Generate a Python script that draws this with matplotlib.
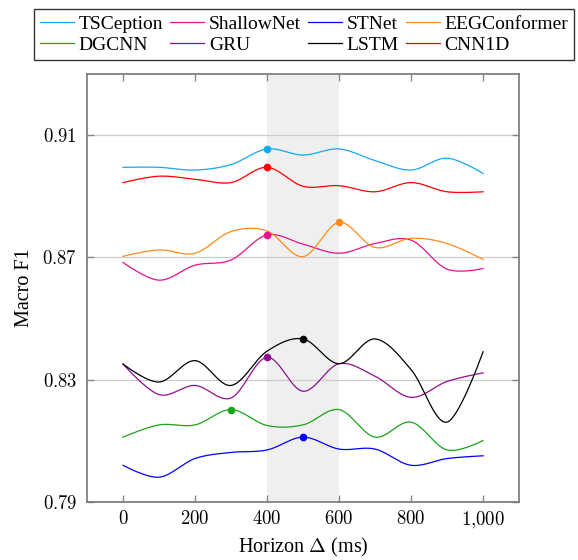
import numpy as np
import matplotlib
matplotlib.use("Agg")
import matplotlib.pyplot as plt
from matplotlib.ticker import FuncFormatter

plt.rcParams['font.family'] = ['Liberation Serif', 'DejaVu Serif']
plt.rcParams['mathtext.fontset'] = 'cm'

horizons = [0, 100, 200, 300, 400, 500, 600, 700, 800, 900, 1000]

tsception = [0.8994, 0.8994, 0.8985, 0.9003, 0.9054, 0.9034, 0.9054, 0.9016, 0.8985, 0.9024, 0.8974]
shallownet = [0.8683, 0.8625, 0.8674, 0.8691, 0.8773, 0.8743, 0.8713, 0.8745, 0.8756, 0.8661, 0.8663]
stnet = [0.8020, 0.7981, 0.8042, 0.8062, 0.8070, 0.8112, 0.8073, 0.8073, 0.8020, 0.8042, 0.8051]
eegconformer = [0.8703, 0.8724, 0.8713, 0.8784, 0.8786, 0.8702, 0.8814, 0.8732, 0.8762, 0.8745, 0.8693]
dgcnn = [0.8112, 0.8152, 0.8152, 0.8202, 0.8150, 0.8152, 0.8202, 0.8112, 0.8161, 0.8070, 0.8101]
gru = [0.8351, 0.8251, 0.8281, 0.8240, 0.8373, 0.8262, 0.8352, 0.8311, 0.8242, 0.8294, 0.8322]
lstm = [0.8351, 0.8292, 0.8362, 0.8281, 0.8393, 0.8433, 0.8352, 0.8433, 0.8333, 0.8161, 0.8391]
cnn1d = [0.8944, 0.8965, 0.8955, 0.8944, 0.8994, 0.8932, 0.8934, 0.8914, 0.8944, 0.8914, 0.8914]

series_names = ['TSCeption', 'ShallowNet', 'STNet', 'EEGConformer', 'DGCNN', 'GRU', 'LSTM', 'CNN1D']
series_values = [tsception, shallownet, stnet, eegconformer, dgcnn, gru, lstm, cnn1d]
series_colors = ['#13aaec', '#e8128c', '#0000ff', '#ff8a1a', '#1aa31a', '#8e108e', '#000000', '#ff0000']

shade_range = (400, 600)


def smooth_curve(x, y, tension=1.0 / 6.0, n=30):
    x = np.asarray(x, float)
    y = np.asarray(y, float)
    pts = np.column_stack([x, y])
    m = len(pts)
    out = []
    for i in range(m - 1):
        p0 = pts[i]
        p3 = pts[i + 1]
        prev = pts[i - 1] if i > 0 else pts[i]
        nxt = pts[i + 2] if i + 2 < m else pts[i + 1]
        c1 = p0 + tension * (p3 - prev) if i > 0 else p0
        c2 = p3 - tension * (nxt - p0) if i + 2 < m else p3
        t = np.linspace(0, 1, n)[:, None]
        seg = ((1 - t) ** 3) * p0 + 3 * ((1 - t) ** 2) * t * c1 + 3 * (1 - t) * t ** 2 * c2 + t ** 3 * p3
        out.append(seg if i == 0 else seg[1:])
    c = np.vstack(out)
    return c[:, 0], c[:, 1]


fig = plt.figure(figsize=(5.78, 5.60), dpi=100)
ax = fig.add_axes([0.1505, 0.1036, 0.7475, 0.7648])

ax.axvspan(shade_range[0], shade_range[1], color='#efefef', lw=0, zorder=0)

handles = []
for name, vals, col in zip(series_names, series_values, series_colors):
    sx, sy = smooth_curve(horizons, vals)
    h, = ax.plot(sx, sy, color=col, lw=0.9, label=name, zorder=3)
    handles.append(h)
    k = int(np.argmax(vals))
    ax.plot([horizons[k]], [vals[k]], 'o', color=col, ms=4.5, zorder=4)

ax.set_xlim(-100, 1100)
ax.set_ylim(0.79, 0.93)
ax.set_xticks([0, 200, 400, 600, 800, 1000])
ax.set_yticks([0.79, 0.83, 0.87, 0.91])
ax.xaxis.set_major_formatter(FuncFormatter(lambda v, p: "$" + f"{int(v):,}".replace(",", "{,}") + "$"))
ax.yaxis.set_major_formatter(FuncFormatter(lambda v, p: f"${v:.2f}$"))
ax.grid(axis='y', color='#cccccc', lw=0.9, zorder=1)
ax.set_axisbelow(True)
ax.tick_params(direction='in', top=True, right=True, color='#888888', length=5,
               labelsize=13.5, width=1.0)
ax.tick_params(axis='x', pad=6)
ax.tick_params(axis='y', pad=7)
for s in ax.spines.values():
    s.set_color('#777777')
    s.set_linewidth(1.2)

ax.set_xlabel(r'Horizon $\Delta$ (ms)', fontsize=14.5, labelpad=3)
ax.set_ylabel('Macro F1', fontsize=14.5, labelpad=6)

# row-major order for legend (matplotlib fills columns first)
ncol = 4
nrow = 2
order = [r * ncol + c for c in range(ncol) for r in range(nrow)]
leg = fig.legend([handles[i] for i in order], [series_names[i] for i in order],
                 loc='center', bbox_to_anchor=(0.526, 0.938), ncol=ncol, fontsize=14,
                 frameon=True, fancybox=False, edgecolor='black', handlelength=1.75,
                 handletextpad=0.25, columnspacing=0.35, borderpad=0.3, labelspacing=0.2,
                 borderaxespad=0)
leg.get_frame().set_linewidth(1.0)

fig.savefig('out.png', dpi=100)
